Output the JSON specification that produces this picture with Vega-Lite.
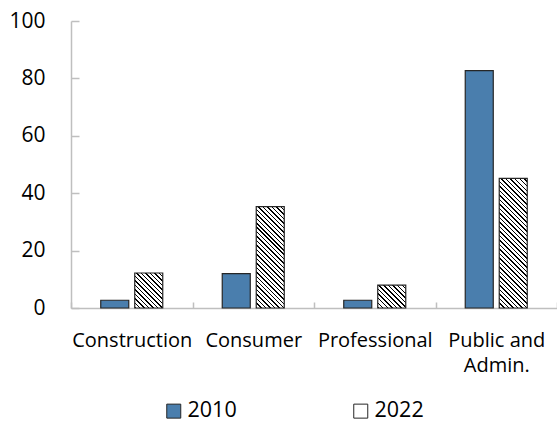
{
  "$schema": "https://vega.github.io/schema/vega-lite/v6.json",
  "width": 486,
  "height": 287,
  "autosize": "none",
  "padding": {"left": 71, "top": 21, "right": 0, "bottom": 114},
  "background": "white",
  "data": {
    "values": [
      {"sector": "Construction", "year": "2010", "share": 2.7},
      {"sector": "Construction", "year": "2022", "share": 12.2},
      {"sector": "Consumer", "year": "2010", "share": 12.0},
      {"sector": "Consumer", "year": "2022", "share": 35.3},
      {"sector": "Professional", "year": "2010", "share": 2.7},
      {"sector": "Professional", "year": "2022", "share": 8.0},
      {"sector": "Public and Admin.", "year": "2010", "share": 82.7},
      {"sector": "Public and Admin.", "year": "2022", "share": 45.2}
    ]
  },
  "mark": {"type": "bar", "stroke": "#262626", "strokeWidth": 1.2},
  "encoding": {
    "x": {
      "field": "sector", "type": "nominal", "sort": null,
      "scale": {"paddingInner": 0, "paddingOuter": 0},
      "axis": {
        "title": null, "labelAngle": 0, "tickBand": "extent", "tickSize": -6,
        "domainColor": "#bfbfbf", "tickColor": "#bfbfbf", "domainWidth": 1.5, "tickWidth": 1.5,
        "labelFont": "Open Sans", "labelFontSize": 20, "labelColor": "#000", "labelPadding": 28,
        "labelLimit": 300, "labelLineHeight": 25,
        "labelExpr": "datum.label === 'Public and Admin.' ? ['Public and', 'Admin.'] : datum.label"
      }
    },
    "xOffset": {
      "field": "year", "type": "nominal",
      "scale": {"paddingInner": 0.176, "paddingOuter": 0.875}
    },
    "y": {
      "field": "share", "type": "quantitative",
      "scale": {"domain": [0, 100]},
      "axis": {
        "title": null, "values": [0, 20, 40, 60, 80, 100], "grid": false, "tickSize": -8,
        "domainColor": "#bfbfbf", "tickColor": "#bfbfbf", "domainWidth": 1.5, "tickWidth": 1.5,
        "labelFont": "Open Sans", "labelFontSize": 21, "labelColor": "#000", "labelPadding": 34
      }
    },
    "fill": {
      "field": "year", "type": "nominal",
      "scale": {"domain": ["2010", "2022"], "range": ["#4a7ead", "#ffffff"]},
      "condition": [
        {"test": "datum.sector === 'Construction' && datum.year === '2022'", "value": {"gradient": "linear", "x1": 0, "y1": 1, "x2": 0.878, "y2": -0.098, "stops": [
{"offset":0,"color":"#000"},{"offset":0.0238,"color":"#000"},{"offset":0.0238,"color":"#fff"},{"offset":0.0714,"color":"#fff"},
{"offset":0.0714,"color":"#000"},{"offset":0.0952,"color":"#000"},{"offset":0.0952,"color":"#fff"},{"offset":0.1429,"color":"#fff"},
{"offset":0.1429,"color":"#000"},{"offset":0.1667,"color":"#000"},{"offset":0.1667,"color":"#fff"},{"offset":0.2143,"color":"#fff"},
{"offset":0.2143,"color":"#000"},{"offset":0.2381,"color":"#000"},{"offset":0.2381,"color":"#fff"},{"offset":0.2857,"color":"#fff"},
{"offset":0.2857,"color":"#000"},{"offset":0.3095,"color":"#000"},{"offset":0.3095,"color":"#fff"},{"offset":0.3571,"color":"#fff"},
{"offset":0.3571,"color":"#000"},{"offset":0.381,"color":"#000"},{"offset":0.381,"color":"#fff"},{"offset":0.4286,"color":"#fff"},
{"offset":0.4286,"color":"#000"},{"offset":0.4524,"color":"#000"},{"offset":0.4524,"color":"#fff"},{"offset":0.5,"color":"#fff"},
{"offset":0.5,"color":"#000"},{"offset":0.5238,"color":"#000"},{"offset":0.5238,"color":"#fff"},{"offset":0.5714,"color":"#fff"},
{"offset":0.5714,"color":"#000"},{"offset":0.5952,"color":"#000"},{"offset":0.5952,"color":"#fff"},{"offset":0.6429,"color":"#fff"},
{"offset":0.6429,"color":"#000"},{"offset":0.6667,"color":"#000"},{"offset":0.6667,"color":"#fff"},{"offset":0.7143,"color":"#fff"},
{"offset":0.7143,"color":"#000"},{"offset":0.7381,"color":"#000"},{"offset":0.7381,"color":"#fff"},{"offset":0.7857,"color":"#fff"},
{"offset":0.7857,"color":"#000"},{"offset":0.8095,"color":"#000"},{"offset":0.8095,"color":"#fff"},{"offset":0.8571,"color":"#fff"},
{"offset":0.8571,"color":"#000"},{"offset":0.881,"color":"#000"},{"offset":0.881,"color":"#fff"},{"offset":0.9286,"color":"#fff"},
{"offset":0.9286,"color":"#000"},{"offset":0.9524,"color":"#000"},{"offset":0.9524,"color":"#fff"},{"offset":1,"color":"#fff"}]}},
        {"test": "datum.sector === 'Consumer' && datum.year === '2022'", "value": {"gradient": "linear", "x1": 0, "y1": 1, "x2": 0.3277, "y2": -0.186, "stops": [
{"offset":0,"color":"#000"},{"offset":0.0115,"color":"#000"},{"offset":0.0115,"color":"#fff"},{"offset":0.0345,"color":"#fff"},
{"offset":0.0345,"color":"#000"},{"offset":0.046,"color":"#000"},{"offset":0.046,"color":"#fff"},{"offset":0.069,"color":"#fff"},
{"offset":0.069,"color":"#000"},{"offset":0.0805,"color":"#000"},{"offset":0.0805,"color":"#fff"},{"offset":0.1034,"color":"#fff"},
{"offset":0.1034,"color":"#000"},{"offset":0.1149,"color":"#000"},{"offset":0.1149,"color":"#fff"},{"offset":0.1379,"color":"#fff"},
{"offset":0.1379,"color":"#000"},{"offset":0.1494,"color":"#000"},{"offset":0.1494,"color":"#fff"},{"offset":0.1724,"color":"#fff"},
{"offset":0.1724,"color":"#000"},{"offset":0.1839,"color":"#000"},{"offset":0.1839,"color":"#fff"},{"offset":0.2069,"color":"#fff"},
{"offset":0.2069,"color":"#000"},{"offset":0.2184,"color":"#000"},{"offset":0.2184,"color":"#fff"},{"offset":0.2414,"color":"#fff"},
{"offset":0.2414,"color":"#000"},{"offset":0.2529,"color":"#000"},{"offset":0.2529,"color":"#fff"},{"offset":0.2759,"color":"#fff"},
{"offset":0.2759,"color":"#000"},{"offset":0.2874,"color":"#000"},{"offset":0.2874,"color":"#fff"},{"offset":0.3103,"color":"#fff"},
{"offset":0.3103,"color":"#000"},{"offset":0.3218,"color":"#000"},{"offset":0.3218,"color":"#fff"},{"offset":0.3448,"color":"#fff"},
{"offset":0.3448,"color":"#000"},{"offset":0.3563,"color":"#000"},{"offset":0.3563,"color":"#fff"},{"offset":0.3793,"color":"#fff"},
{"offset":0.3793,"color":"#000"},{"offset":0.3908,"color":"#000"},{"offset":0.3908,"color":"#fff"},{"offset":0.4138,"color":"#fff"},
{"offset":0.4138,"color":"#000"},{"offset":0.4253,"color":"#000"},{"offset":0.4253,"color":"#fff"},{"offset":0.4483,"color":"#fff"},
{"offset":0.4483,"color":"#000"},{"offset":0.4598,"color":"#000"},{"offset":0.4598,"color":"#fff"},{"offset":0.4828,"color":"#fff"},
{"offset":0.4828,"color":"#000"},{"offset":0.4943,"color":"#000"},{"offset":0.4943,"color":"#fff"},{"offset":0.5172,"color":"#fff"},
{"offset":0.5172,"color":"#000"},{"offset":0.5287,"color":"#000"},{"offset":0.5287,"color":"#fff"},{"offset":0.5517,"color":"#fff"},
{"offset":0.5517,"color":"#000"},{"offset":0.5632,"color":"#000"},{"offset":0.5632,"color":"#fff"},{"offset":0.5862,"color":"#fff"},
{"offset":0.5862,"color":"#000"},{"offset":0.5977,"color":"#000"},{"offset":0.5977,"color":"#fff"},{"offset":0.6207,"color":"#fff"},
{"offset":0.6207,"color":"#000"},{"offset":0.6322,"color":"#000"},{"offset":0.6322,"color":"#fff"},{"offset":0.6552,"color":"#fff"},
{"offset":0.6552,"color":"#000"},{"offset":0.6667,"color":"#000"},{"offset":0.6667,"color":"#fff"},{"offset":0.6897,"color":"#fff"},
{"offset":0.6897,"color":"#000"},{"offset":0.7011,"color":"#000"},{"offset":0.7011,"color":"#fff"},{"offset":0.7241,"color":"#fff"},
{"offset":0.7241,"color":"#000"},{"offset":0.7356,"color":"#000"},{"offset":0.7356,"color":"#fff"},{"offset":0.7586,"color":"#fff"},
{"offset":0.7586,"color":"#000"},{"offset":0.7701,"color":"#000"},{"offset":0.7701,"color":"#fff"},{"offset":0.7931,"color":"#fff"},
{"offset":0.7931,"color":"#000"},{"offset":0.8046,"color":"#000"},{"offset":0.8046,"color":"#fff"},{"offset":0.8276,"color":"#fff"},
{"offset":0.8276,"color":"#000"},{"offset":0.8391,"color":"#000"},{"offset":0.8391,"color":"#fff"},{"offset":0.8621,"color":"#fff"},
{"offset":0.8621,"color":"#000"},{"offset":0.8736,"color":"#000"},{"offset":0.8736,"color":"#fff"},{"offset":0.8966,"color":"#fff"},
{"offset":0.8966,"color":"#000"},{"offset":0.908,"color":"#000"},{"offset":0.908,"color":"#fff"},{"offset":0.931,"color":"#fff"},
{"offset":0.931,"color":"#000"},{"offset":0.9425,"color":"#000"},{"offset":0.9425,"color":"#fff"},{"offset":0.9655,"color":"#fff"},
{"offset":0.9655,"color":"#000"},{"offset":0.977,"color":"#000"},{"offset":0.977,"color":"#fff"},{"offset":1,"color":"#fff"}]}},
        {"test": "datum.sector === 'Professional' && datum.year === '2022'", "value": {"gradient": "linear", "x1": 0, "y1": 1, "x2": 1.088, "y2": 0.107, "stops": [
{"offset":0,"color":"#000"},{"offset":0.0303,"color":"#000"},{"offset":0.0303,"color":"#fff"},{"offset":0.0909,"color":"#fff"},
{"offset":0.0909,"color":"#000"},{"offset":0.1212,"color":"#000"},{"offset":0.1212,"color":"#fff"},{"offset":0.1818,"color":"#fff"},
{"offset":0.1818,"color":"#000"},{"offset":0.2121,"color":"#000"},{"offset":0.2121,"color":"#fff"},{"offset":0.2727,"color":"#fff"},
{"offset":0.2727,"color":"#000"},{"offset":0.303,"color":"#000"},{"offset":0.303,"color":"#fff"},{"offset":0.3636,"color":"#fff"},
{"offset":0.3636,"color":"#000"},{"offset":0.3939,"color":"#000"},{"offset":0.3939,"color":"#fff"},{"offset":0.4545,"color":"#fff"},
{"offset":0.4545,"color":"#000"},{"offset":0.4848,"color":"#000"},{"offset":0.4848,"color":"#fff"},{"offset":0.5455,"color":"#fff"},
{"offset":0.5455,"color":"#000"},{"offset":0.5758,"color":"#000"},{"offset":0.5758,"color":"#fff"},{"offset":0.6364,"color":"#fff"},
{"offset":0.6364,"color":"#000"},{"offset":0.6667,"color":"#000"},{"offset":0.6667,"color":"#fff"},{"offset":0.7273,"color":"#fff"},
{"offset":0.7273,"color":"#000"},{"offset":0.7576,"color":"#000"},{"offset":0.7576,"color":"#fff"},{"offset":0.8182,"color":"#fff"},
{"offset":0.8182,"color":"#000"},{"offset":0.8485,"color":"#000"},{"offset":0.8485,"color":"#fff"},{"offset":0.9091,"color":"#fff"},
{"offset":0.9091,"color":"#000"},{"offset":0.9394,"color":"#000"},{"offset":0.9394,"color":"#fff"},{"offset":1,"color":"#fff"}]}},
        {"test": "datum.sector === 'Public and Admin.' && datum.year === '2022'", "value": {"gradient": "linear", "x1": 0, "y1": 1, "x2": 0.2508, "y2": -0.162, "stops": [
{"offset":0,"color":"#000"},{"offset":0.0095,"color":"#000"},{"offset":0.0095,"color":"#fff"},{"offset":0.0286,"color":"#fff"},
{"offset":0.0286,"color":"#000"},{"offset":0.0381,"color":"#000"},{"offset":0.0381,"color":"#fff"},{"offset":0.0571,"color":"#fff"},
{"offset":0.0571,"color":"#000"},{"offset":0.0667,"color":"#000"},{"offset":0.0667,"color":"#fff"},{"offset":0.0857,"color":"#fff"},
{"offset":0.0857,"color":"#000"},{"offset":0.0952,"color":"#000"},{"offset":0.0952,"color":"#fff"},{"offset":0.1143,"color":"#fff"},
{"offset":0.1143,"color":"#000"},{"offset":0.1238,"color":"#000"},{"offset":0.1238,"color":"#fff"},{"offset":0.1429,"color":"#fff"},
{"offset":0.1429,"color":"#000"},{"offset":0.1524,"color":"#000"},{"offset":0.1524,"color":"#fff"},{"offset":0.1714,"color":"#fff"},
{"offset":0.1714,"color":"#000"},{"offset":0.181,"color":"#000"},{"offset":0.181,"color":"#fff"},{"offset":0.2,"color":"#fff"},
{"offset":0.2,"color":"#000"},{"offset":0.2095,"color":"#000"},{"offset":0.2095,"color":"#fff"},{"offset":0.2286,"color":"#fff"},
{"offset":0.2286,"color":"#000"},{"offset":0.2381,"color":"#000"},{"offset":0.2381,"color":"#fff"},{"offset":0.2571,"color":"#fff"},
{"offset":0.2571,"color":"#000"},{"offset":0.2667,"color":"#000"},{"offset":0.2667,"color":"#fff"},{"offset":0.2857,"color":"#fff"},
{"offset":0.2857,"color":"#000"},{"offset":0.2952,"color":"#000"},{"offset":0.2952,"color":"#fff"},{"offset":0.3143,"color":"#fff"},
{"offset":0.3143,"color":"#000"},{"offset":0.3238,"color":"#000"},{"offset":0.3238,"color":"#fff"},{"offset":0.3429,"color":"#fff"},
{"offset":0.3429,"color":"#000"},{"offset":0.3524,"color":"#000"},{"offset":0.3524,"color":"#fff"},{"offset":0.3714,"color":"#fff"},
{"offset":0.3714,"color":"#000"},{"offset":0.381,"color":"#000"},{"offset":0.381,"color":"#fff"},{"offset":0.4,"color":"#fff"},
{"offset":0.4,"color":"#000"},{"offset":0.4095,"color":"#000"},{"offset":0.4095,"color":"#fff"},{"offset":0.4286,"color":"#fff"},
{"offset":0.4286,"color":"#000"},{"offset":0.4381,"color":"#000"},{"offset":0.4381,"color":"#fff"},{"offset":0.4571,"color":"#fff"},
{"offset":0.4571,"color":"#000"},{"offset":0.4667,"color":"#000"},{"offset":0.4667,"color":"#fff"},{"offset":0.4857,"color":"#fff"},
{"offset":0.4857,"color":"#000"},{"offset":0.4952,"color":"#000"},{"offset":0.4952,"color":"#fff"},{"offset":0.5143,"color":"#fff"},
{"offset":0.5143,"color":"#000"},{"offset":0.5238,"color":"#000"},{"offset":0.5238,"color":"#fff"},{"offset":0.5429,"color":"#fff"},
{"offset":0.5429,"color":"#000"},{"offset":0.5524,"color":"#000"},{"offset":0.5524,"color":"#fff"},{"offset":0.5714,"color":"#fff"},
{"offset":0.5714,"color":"#000"},{"offset":0.581,"color":"#000"},{"offset":0.581,"color":"#fff"},{"offset":0.6,"color":"#fff"},
{"offset":0.6,"color":"#000"},{"offset":0.6095,"color":"#000"},{"offset":0.6095,"color":"#fff"},{"offset":0.6286,"color":"#fff"},
{"offset":0.6286,"color":"#000"},{"offset":0.6381,"color":"#000"},{"offset":0.6381,"color":"#fff"},{"offset":0.6571,"color":"#fff"},
{"offset":0.6571,"color":"#000"},{"offset":0.6667,"color":"#000"},{"offset":0.6667,"color":"#fff"},{"offset":0.6857,"color":"#fff"},
{"offset":0.6857,"color":"#000"},{"offset":0.6952,"color":"#000"},{"offset":0.6952,"color":"#fff"},{"offset":0.7143,"color":"#fff"},
{"offset":0.7143,"color":"#000"},{"offset":0.7238,"color":"#000"},{"offset":0.7238,"color":"#fff"},{"offset":0.7429,"color":"#fff"},
{"offset":0.7429,"color":"#000"},{"offset":0.7524,"color":"#000"},{"offset":0.7524,"color":"#fff"},{"offset":0.7714,"color":"#fff"},
{"offset":0.7714,"color":"#000"},{"offset":0.781,"color":"#000"},{"offset":0.781,"color":"#fff"},{"offset":0.8,"color":"#fff"},
{"offset":0.8,"color":"#000"},{"offset":0.8095,"color":"#000"},{"offset":0.8095,"color":"#fff"},{"offset":0.8286,"color":"#fff"},
{"offset":0.8286,"color":"#000"},{"offset":0.8381,"color":"#000"},{"offset":0.8381,"color":"#fff"},{"offset":0.8571,"color":"#fff"},
{"offset":0.8571,"color":"#000"},{"offset":0.8667,"color":"#000"},{"offset":0.8667,"color":"#fff"},{"offset":0.8857,"color":"#fff"},
{"offset":0.8857,"color":"#000"},{"offset":0.8952,"color":"#000"},{"offset":0.8952,"color":"#fff"},{"offset":0.9143,"color":"#fff"},
{"offset":0.9143,"color":"#000"},{"offset":0.9238,"color":"#000"},{"offset":0.9238,"color":"#fff"},{"offset":0.9429,"color":"#fff"},
{"offset":0.9429,"color":"#000"},{"offset":0.9524,"color":"#000"},{"offset":0.9524,"color":"#fff"},{"offset":0.9714,"color":"#fff"},
{"offset":0.9714,"color":"#000"},{"offset":0.981,"color":"#000"},{"offset":0.981,"color":"#fff"},{"offset":1,"color":"#fff"}]}}
      ],
      "legend": {
        "title": null, "orient": "none", "legendX": 92, "legendY": 379, "direction": "horizontal",
        "symbolType": "square", "symbolSize": 196, "symbolStrokeColor": "#262626", "symbolStrokeWidth": 1,
        "labelFont": "Open Sans", "labelFontSize": 21.5, "labelColor": "#000", "labelOffset": 3,
        "columnPadding": 113, "padding": 0,
        "encode": {
          "symbols": {
            "update": {
              "stroke": {"value": "#262626"},
              "strokeWidth": {"value": 1},
              "opacity": {"value": 1}
            }
          }
        }
      }
    }
  },
  "config": {"view": {"stroke": null}, "font": "Open Sans"}
}
